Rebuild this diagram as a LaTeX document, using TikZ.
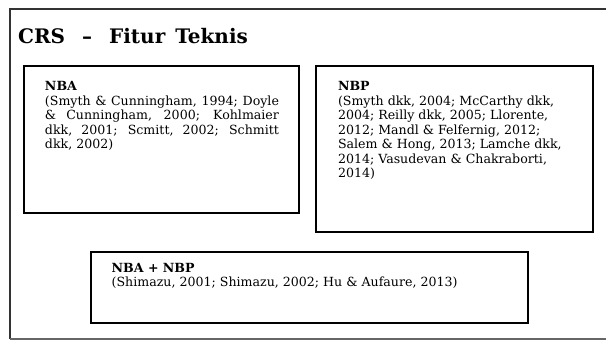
\documentclass[tikz,border=0pt]{standalone}
\usepackage{fontspec}
\setmainfont{DejaVu Serif}
\begin{document}
\begin{tikzpicture}[x=1pt,y=-1pt,
  panel/.style={draw=black, line width=2pt, outer sep=0pt, inner sep=0pt, anchor=north west},
  body/.style={anchor=north west, inner sep=0pt, outer sep=0pt,
    font=\fontsize{12.6}{14.5}\selectfont},
  title/.style={anchor=base west, inner sep=0pt, font=\fontsize{20}{24}\selectfont\bfseries},
]
\useasboundingbox (0,0) rectangle (606,341);

% outer frame, open on the right
\begin{scope}
  \clip (0,0) rectangle (606,341);
  \draw[draw=black!80, line width=2pt] (614,8.5) -- (10,8.5) -- (10,339);
  \draw[draw=black!60, line width=1.2pt] (10,339) -- (614,339);
\end{scope}

\node[title] (head) at (18,43.5) {CRS\hspace{0.85em}–\hspace{0.85em}Fitur\hspace{0.5em}Teknis};

% panels
\node[panel, minimum width=275pt, minimum height=147pt] (nba) at (24.3,66) {};
\node[panel, minimum width=276.5pt, minimum height=166pt] (nbp) at (316,66) {};
\node[panel, minimum width=437pt, minimum height=71pt] (mix) at (90.7,252) {};

% panel texts
\node[body, text width=234pt, align=justify] (nbatext) at ([shift={(20.7,15.5)}]nba.north west)
  {\textbf{NBA}\\
   (Smyth \& Cunningham, 1994; Doyle\linebreak
   \& Cunningham, 2000; Kohlmaier\linebreak
   dkk, 2001; Scmitt, 2002; Schmitt\linebreak
   dkk, 2002)};
\node[body, align=left] (nbptext) at ([shift={(22,15.5)}]nbp.north west)
  {\textbf{NBP}\\
   (Smyth dkk, 2004; McCarthy dkk,\\
   2004; Reilly dkk, 2005; Llorente,\\
   2012; Mandl \& Felfernig, 2012;\\
   Salem \& Hong, 2013; Lamche dkk,\\
   2014; Vasudevan \& Chakraborti,\\
   2014)};
\node[body, align=left] (mixtext) at ([shift={(21,11)}]mix.north west)
  {\textbf{NBA + NBP}\\
   (Shimazu, 2001; Shimazu, 2002; Hu \& Aufaure, 2013)};
\end{tikzpicture}
\end{document}
